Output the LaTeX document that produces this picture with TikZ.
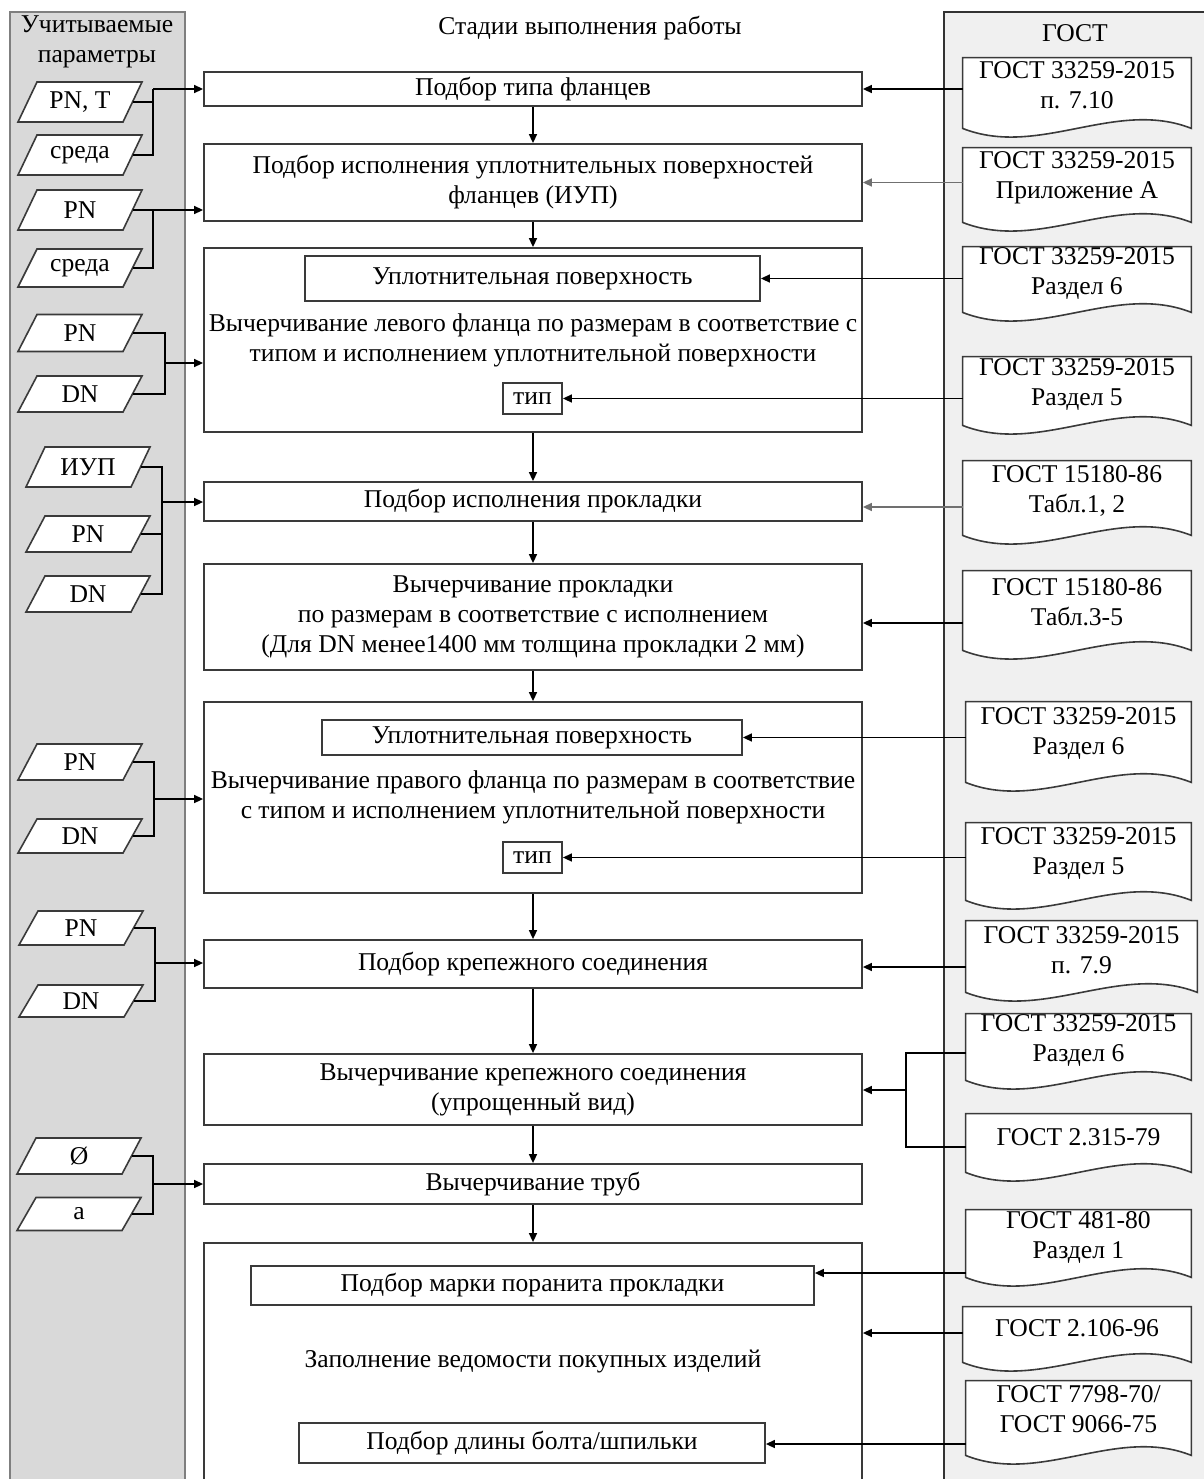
\documentclass[tikz,border=0pt]{standalone}
\usepackage{fontspec}
\setmainfont{Liberation Serif}
\usetikzlibrary{calc,fit,arrows.meta}
\definecolor{lpfill}{HTML}{D9D9D9}
\definecolor{lpline}{HTML}{7F7F7F}
\definecolor{rpfill}{HTML}{F0F0F0}
\definecolor{rpline}{HTML}{333333}
\definecolor{bxline}{HTML}{3A3A3A}
\definecolor{grline}{HTML}{707070}
\newcommand\fsz{\fontsize{12.8}{15}\selectfont}
\tikzset{
  box/.style={draw=bxline, line width=0.9pt, fill=white, inner sep=0pt},
  btext/.style={align=center, inner sep=0pt},
  docline/.style={draw=bxline, line width=0.8pt, fill=white},
  gtext/.style={align=center, inner sep=0pt},
  pline/.style={draw=bxline, line width=0.8pt, fill=white},
  ptext/.style={inner sep=0pt},
  ln/.style={draw=black, line width=0.75pt},
  arr/.style={ln, -{Triangle[length=4.5pt,width=4pt]}},
}
% document shape: name, left, top, right, bottom-corner, text y, text
\newcommand\gdoc[7]{%
  \node[fit={(#2,#3)(#4,#5)}, inner sep=0pt] (#1) {};
  \draw[docline] (#1.south west) -- (#1.north west) -- (#1.north east) -- (#1.south east)
    .. controls ($(#1.south east)!0.333!(#1.south west)+(0,-30)$) and ($(#1.south east)!0.667!(#1.south west)+(0,30)$) .. (#1.south west) -- cycle;
  \node[gtext] (#1t) at ({(#2+#4)/2},#6) {#7};
}
% parameter parallelogram: name, cx, cy, height, text
\newcommand\prm[5]{%
  \draw[pline] ({#2-62},{#3+#4/2}) -- ({#2-43},{#3-#4/2}) -- ({#2+62},{#3-#4/2}) -- ({#2+43},{#3+#4/2}) -- cycle;
  \node[ptext] (#1) at (#2,#3) {#5};
  \coordinate (#1r) at ({#2+52.5},#3);
}
% box with centred text: name, x1, y1, x2, y2, text
\newcommand\bx[6]{%
  \node[box, fit={(#2,#3)(#4,#5)}] (#1) {};
  \node[btext] (#1t) at (#1.center) {#6};
}
\begin{document}
\begin{tikzpicture}[x=0.5pt,y=-0.5pt,font=\fsz]
\useasboundingbox (0,0) rectangle (1204,1479);
\clip (0,0) rectangle (1204,1479);
\fill[white] (0,0) rectangle (1204,1479);
% panels
\draw[fill=lpfill, draw=lpline, line width=0.9pt] (10,12) rectangle (185,1500);
\draw[fill=rpfill, draw=rpline, line width=0.8pt] (944,12) rectangle (1230,1500);
\node[align=center] (tl) at (97,42) {Учитываемые\\параметры};
\node (tr) at (1075,33) {ГОСТ};
\node (tc) at (590,28) {Стадии выполнения работы};
% main boxes
\bx{b1}{204}{72}{862}{106}{Подбор типа фланцев}
\bx{b2}{204}{144}{862}{221}{Подбор исполнения уплотнительных поверхностей\\фланцев (ИУП)}
\bx{b3}{204}{248}{862}{432}{Вычерчивание левого фланца по размерам в соответствие с\\типом и исполнением уплотнительной поверхности}
\bx{b3a}{305}{256}{760}{301}{Уплотнительная поверхность}
\bx{b3t}{503}{383}{562}{414}{тип}
\bx{b4}{204}{482}{862}{521}{Подбор исполнения прокладки}
\bx{b5}{204}{564}{862}{670}{Вычерчивание прокладки\\по размерам в соответствие с исполнением\\(Для DN менее1400 мм толщина прокладки 2 мм)}
\bx{b6}{204}{702}{862}{893}{Вычерчивание правого фланца по размерам в соответствие\\с типом и исполнением уплотнительной поверхности}
\bx{b6a}{322}{720}{742}{755}{Уплотнительная поверхность}
\bx{b6t}{503}{842}{562}{873}{тип}
\bx{b7}{204}{940}{862}{988}{Подбор крепежного соединения}
\bx{b8}{204}{1054}{862}{1125}{Вычерчивание крепежного соединения\\(упрощенный вид)}
\bx{b9}{204}{1164}{862}{1204}{Вычерчивание труб}
\node[box, fit={(204,1243)(862,1500)}] (b10) {};
\node[btext] (b10t) at (533,1361) {Заполнение ведомости покупных изделий};
\bx{b10a}{251}{1266}{814}{1305}{Подбор марки поранита прокладки}
\bx{b10b}{299}{1423}{765}{1463}{Подбор длины болта/шпильки}
% flow arrows
\foreach \a/\b in {b1/b2,b2/b3,b3/b4,b4/b5,b5/b6,b6/b7,b7/b8,b8/b9,b9/b10}
  \draw[arr] (\a.south) -- (\b.north);
% documents
\gdoc{g1}{963}{58}{1191}{128}{85.5}{ГОСТ 33259-2015\\п. 7.10}
\gdoc{g2}{963}{148}{1191}{222}{177.5}{ГОСТ 33259-2015\\Приложение А}
\gdoc{g3}{963}{247}{1191}{312}{273.5}{ГОСТ 33259-2015\\Раздел 6}
\gdoc{g4}{963}{357}{1191}{425}{384.5}{ГОСТ 33259-2015\\Раздел 5}
\gdoc{g5}{963}{461}{1191}{535}{490.5}{ГОСТ 15180-86\\Табл.1, 2}
\gdoc{g6}{963}{571}{1191}{650}{602}{ГОСТ 15180-86\\Табл.3-5}
\gdoc{g7}{966}{702}{1191}{782}{733}{ГОСТ 33259-2015\\Раздел 6}
\gdoc{g8}{966}{823}{1191}{900}{853}{ГОСТ 33259-2015\\Раздел 5}
\gdoc{g9}{966}{921}{1197}{992}{950.5}{ГОСТ 33259-2015\\п. 7.9}
\gdoc{g10}{966}{1014}{1191}{1080}{1040}{ГОСТ 33259-2015\\Раздел 6}
\gdoc{g11}{966}{1114}{1191}{1172}{1137}{ГОСТ 2.315-79}
\gdoc{g12}{966}{1210}{1191}{1277}{1237}{ГОСТ 481-80\\Раздел 1}
\gdoc{g13}{963}{1307}{1191}{1362}{1328}{ГОСТ 2.106-96}
\gdoc{g14}{966}{1381}{1191}{1455}{1409.5}{ГОСТ 7798-70/\\ГОСТ 9066-75}
% document arrows
\draw[arr] (g1.west |- b1.east) -- (b1.east);
\draw[arr, draw=grline] (g2.west |- b2.east) -- (b2.east);
\draw[arr] (g3.west |- b3a.east) -- (b3a.east);
\draw[arr] (g4.west |- b3t.east) -- (b3t.east);
\draw[arr, draw=grline] (g5.west |- 0,507) -- (b4.east |- 0,507);
\draw[arr] (g6.west |- 0,623) -- (b5.east |- 0,623);
\draw[arr] (g7.west |- b6a.east) -- (b6a.east);
\draw[arr] (g8.west |- b6t.east) -- (b6t.east);
\draw[arr] (g9.west |- 0,967) -- (b7.east |- 0,967);
\coordinate (j8) at (906,1090);
\draw[ln] (g10.west |- 0,1053) -| (j8);
\draw[ln] (g11.west |- 0,1147) -| (j8);
\draw[arr] (j8) -- (b8.east |- j8);
\draw[arr] (g12.west |- 0,1273) -- (b10a.east |- 0,1273);
\draw[arr] (g13.west |- 0,1333) -- (b10.east |- 0,1333);
\draw[arr] (g14.west |- 0,1444) -- (b10b.east |- 0,1444);
% parameters
\prm{p1}{80}{102}{40}{PN, T}
\prm{p2}{80}{155}{40}{среда}
\prm{p3}{80}{210}{40}{PN}
\prm{p4}{80}{268}{38}{среда}
\prm{p5}{80}{333}{37}{PN}
\prm{p6}{80}{394}{36}{DN}
\prm{p7}{88}{467}{40}{ИУП}
\prm{p8}{88}{534}{36}{PN}
\prm{p9}{88}{594}{36}{DN}
\prm{p10}{80}{762}{36}{PN}
\prm{p11}{80}{836}{34}{DN}
\prm{p12}{81}{928}{34}{PN}
\prm{p13}{81}{1001}{32}{DN}
\prm{p14}{79}{1156}{36}{Ø}
\prm{p15}{79}{1214}{33}{a}
% parameter connectors
\coordinate (k1) at (153,89);
\draw[ln] (p1r) -| (k1);
\draw[ln] (p2r) -| (k1);
\draw[arr] (k1) -- (b1.west |- k1);
\coordinate (k2) at (153,210);
\draw[ln] (p3r) -- (k2);
\draw[ln] (p4r) -| (k2);
\draw[arr] (k2) -- (b2.west |- k2);
\coordinate (k3) at (165,363);
\draw[ln] (p5r) -| (k3);
\draw[ln] (p6r) -| (k3);
\draw[arr] (k3) -- (b3.west |- k3);
\coordinate (k4) at (162,502);
\draw[ln] (p7r) -| (k4);
\draw[ln] (p8r) -- (p8r -| k4);
\draw[ln] (p9r) -| (k4);
\draw[arr] (k4) -- (b4.west |- k4);
\coordinate (k5) at (154,799);
\draw[ln] (p10r) -| (k5);
\draw[ln] (p11r) -| (k5);
\draw[arr] (k5) -- (b6.west |- k5);
\coordinate (k6) at (155,963);
\draw[ln] (p12r) -| (k6);
\draw[ln] (p13r) -| (k6);
\draw[arr] (k6) -- (b7.west |- k6);
\coordinate (k7) at (153,1184);
\draw[ln] (p14r) -| (k7);
\draw[ln] (p15r) -| (k7);
\draw[arr] (k7) -- (b9.west |- k7);
\end{tikzpicture}
\end{document}
